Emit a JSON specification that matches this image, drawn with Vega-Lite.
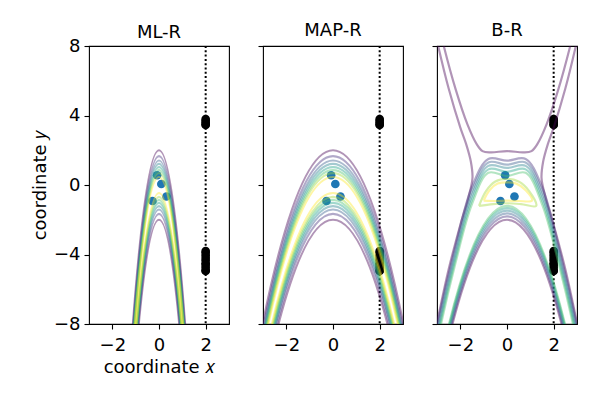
{
"$schema":"https://vega.github.io/schema/vega-lite/v6.json",
"padding":{"left":30,"top":21,"right":5,"bottom":5},
"background":"white",
"config":{
 "view":{"stroke":"#000","strokeWidth":1.1},
 "axis":{"domain":false,"grid":false,"ticks":true,"tickColor":"#000","tickSize":5,"tickWidth":1.1,"labelFont":"DejaVu Sans","labelFontSize":18,"labelColor":"#000","labelPadding":4,"titleFont":"DejaVu Sans","titleFontSize":18,"titleFontWeight":"normal","titleColor":"#000"},
 "axisX":{"labelPadding":7},
 "title":{"font":"DejaVu Sans","fontSize":18,"fontWeight":"normal","color":"#000","offset":-5},
 "concat":{"spacing":26}
},
"datasets":{
 "vl":[{"x":2}],
 "pts":[
  {"k":"b","x":-0.08,"y":0.56},{"k":"b","x":0.1,"y":0.06},{"k":"b","x":0.32,"y":-0.66},{"k":"b","x":-0.28,"y":-0.92},
  {"k":"k","x":2,"y":3.8},{"k":"k","x":2,"y":3.7},{"k":"k","x":2,"y":3.6},{"k":"k","x":2,"y":3.5},{"k":"k","x":2,"y":3.45},
  {"k":"k","x":2,"y":-3.8},{"k":"k","x":2,"y":-3.9},{"k":"k","x":2,"y":-4.05},{"k":"k","x":2,"y":-4.2},{"k":"k","x":2,"y":-4.35},
  {"k":"k","x":2,"y":-4.5},{"k":"k","x":2,"y":-4.6},{"k":"k","x":2,"y":-4.75},{"k":"k","x":2,"y":-4.9},{"k":"k","x":2,"y":-4.95}
 ],
 "par":[
  {"p":"A","c":"A1u","l":1,"x":-2.4,"y":-44.08},{"p":"A","c":"A1u","l":1,"x":-1.2,"y":-9.52},{"p":"A","c":"A1u","l":1,"x":0,"y":2},{"p":"A","c":"A1u","l":1,"x":1.2,"y":-9.52},{"p":"A","c":"A1u","l":1,"x":2.4,"y":-44.08},
  {"p":"A","c":"A1d","l":1,"x":-2.4,"y":-48.08},{"p":"A","c":"A1d","l":1,"x":-1.2,"y":-13.52},{"p":"A","c":"A1d","l":1,"x":0,"y":-2},{"p":"A","c":"A1d","l":1,"x":1.2,"y":-13.52},{"p":"A","c":"A1d","l":1,"x":2.4,"y":-48.08},
  {"p":"A","c":"A2u","l":2,"x":-2.4,"y":-44.42},{"p":"A","c":"A2u","l":2,"x":-1.2,"y":-9.86},{"p":"A","c":"A2u","l":2,"x":0,"y":1.66},{"p":"A","c":"A2u","l":2,"x":1.2,"y":-9.86},{"p":"A","c":"A2u","l":2,"x":2.4,"y":-44.42},
  {"p":"A","c":"A2d","l":2,"x":-2.4,"y":-47.74},{"p":"A","c":"A2d","l":2,"x":-1.2,"y":-13.18},{"p":"A","c":"A2d","l":2,"x":0,"y":-1.66},{"p":"A","c":"A2d","l":2,"x":1.2,"y":-13.18},{"p":"A","c":"A2d","l":2,"x":2.4,"y":-47.74},
  {"p":"A","c":"A3u","l":3,"x":-2.4,"y":-44.67},{"p":"A","c":"A3u","l":3,"x":-1.2,"y":-10.11},{"p":"A","c":"A3u","l":3,"x":0,"y":1.41},{"p":"A","c":"A3u","l":3,"x":1.2,"y":-10.11},{"p":"A","c":"A3u","l":3,"x":2.4,"y":-44.67},
  {"p":"A","c":"A3d","l":3,"x":-2.4,"y":-47.49},{"p":"A","c":"A3d","l":3,"x":-1.2,"y":-12.93},{"p":"A","c":"A3d","l":3,"x":0,"y":-1.41},{"p":"A","c":"A3d","l":3,"x":1.2,"y":-12.93},{"p":"A","c":"A3d","l":3,"x":2.4,"y":-47.49},
  {"p":"A","c":"A4u","l":4,"x":-2.4,"y":-44.86},{"p":"A","c":"A4u","l":4,"x":-1.2,"y":-10.3},{"p":"A","c":"A4u","l":4,"x":0,"y":1.22},{"p":"A","c":"A4u","l":4,"x":1.2,"y":-10.3},{"p":"A","c":"A4u","l":4,"x":2.4,"y":-44.86},
  {"p":"A","c":"A4d","l":4,"x":-2.4,"y":-47.3},{"p":"A","c":"A4d","l":4,"x":-1.2,"y":-12.74},{"p":"A","c":"A4d","l":4,"x":0,"y":-1.22},{"p":"A","c":"A4d","l":4,"x":1.2,"y":-12.74},{"p":"A","c":"A4d","l":4,"x":2.4,"y":-47.3},
  {"p":"A","c":"A5u","l":5,"x":-2.4,"y":-45.05},{"p":"A","c":"A5u","l":5,"x":-1.2,"y":-10.49},{"p":"A","c":"A5u","l":5,"x":0,"y":1.03},{"p":"A","c":"A5u","l":5,"x":1.2,"y":-10.49},{"p":"A","c":"A5u","l":5,"x":2.4,"y":-45.05},
  {"p":"A","c":"A5d","l":5,"x":-2.4,"y":-47.11},{"p":"A","c":"A5d","l":5,"x":-1.2,"y":-12.55},{"p":"A","c":"A5d","l":5,"x":0,"y":-1.03},{"p":"A","c":"A5d","l":5,"x":1.2,"y":-12.55},{"p":"A","c":"A5d","l":5,"x":2.4,"y":-47.11},
  {"p":"A","c":"A6u","l":6,"x":-2.4,"y":-45.22},{"p":"A","c":"A6u","l":6,"x":-1.2,"y":-10.66},{"p":"A","c":"A6u","l":6,"x":0,"y":0.86},{"p":"A","c":"A6u","l":6,"x":1.2,"y":-10.66},{"p":"A","c":"A6u","l":6,"x":2.4,"y":-45.22},
  {"p":"A","c":"A6d","l":6,"x":-2.4,"y":-46.94},{"p":"A","c":"A6d","l":6,"x":-1.2,"y":-12.38},{"p":"A","c":"A6d","l":6,"x":0,"y":-0.86},{"p":"A","c":"A6d","l":6,"x":1.2,"y":-12.38},{"p":"A","c":"A6d","l":6,"x":2.4,"y":-46.94},
  {"p":"A","c":"A7u","l":7,"x":-2.4,"y":-45.4},{"p":"A","c":"A7u","l":7,"x":-1.2,"y":-10.84},{"p":"A","c":"A7u","l":7,"x":0,"y":0.68},{"p":"A","c":"A7u","l":7,"x":1.2,"y":-10.84},{"p":"A","c":"A7u","l":7,"x":2.4,"y":-45.4},
  {"p":"A","c":"A7d","l":7,"x":-2.4,"y":-46.76},{"p":"A","c":"A7d","l":7,"x":-1.2,"y":-12.2},{"p":"A","c":"A7d","l":7,"x":0,"y":-0.68},{"p":"A","c":"A7d","l":7,"x":1.2,"y":-12.2},{"p":"A","c":"A7d","l":7,"x":2.4,"y":-46.76},
  {"p":"A","c":"A8u","l":8,"x":-2.4,"y":-45.62},{"p":"A","c":"A8u","l":8,"x":-1.2,"y":-11.06},{"p":"A","c":"A8u","l":8,"x":0,"y":0.46},{"p":"A","c":"A8u","l":8,"x":1.2,"y":-11.06},{"p":"A","c":"A8u","l":8,"x":2.4,"y":-45.62},
  {"p":"A","c":"A8d","l":8,"x":-2.4,"y":-46.54},{"p":"A","c":"A8d","l":8,"x":-1.2,"y":-11.98},{"p":"A","c":"A8d","l":8,"x":0,"y":-0.46},{"p":"A","c":"A8d","l":8,"x":1.2,"y":-11.98},{"p":"A","c":"A8d","l":8,"x":2.4,"y":-46.54},

  {"p":"B","c":"B1u","l":1,"x":-6,"y":-37.6},{"p":"B","c":"B1u","l":1,"x":-3,"y":-7.9},{"p":"B","c":"B1u","l":1,"x":0,"y":2},{"p":"B","c":"B1u","l":1,"x":3,"y":-7.9},{"p":"B","c":"B1u","l":1,"x":6,"y":-37.6},
  {"p":"B","c":"B1d","l":1,"x":-6,"y":-41.6},{"p":"B","c":"B1d","l":1,"x":-3,"y":-11.9},{"p":"B","c":"B1d","l":1,"x":0,"y":-2},{"p":"B","c":"B1d","l":1,"x":3,"y":-11.9},{"p":"B","c":"B1d","l":1,"x":6,"y":-41.6},
  {"p":"B","c":"B2u","l":2,"x":-6,"y":-37.94},{"p":"B","c":"B2u","l":2,"x":-3,"y":-8.24},{"p":"B","c":"B2u","l":2,"x":0,"y":1.66},{"p":"B","c":"B2u","l":2,"x":3,"y":-8.24},{"p":"B","c":"B2u","l":2,"x":6,"y":-37.94},
  {"p":"B","c":"B2d","l":2,"x":-6,"y":-41.26},{"p":"B","c":"B2d","l":2,"x":-3,"y":-11.56},{"p":"B","c":"B2d","l":2,"x":0,"y":-1.66},{"p":"B","c":"B2d","l":2,"x":3,"y":-11.56},{"p":"B","c":"B2d","l":2,"x":6,"y":-41.26},
  {"p":"B","c":"B3u","l":3,"x":-6,"y":-38.19},{"p":"B","c":"B3u","l":3,"x":-3,"y":-8.49},{"p":"B","c":"B3u","l":3,"x":0,"y":1.41},{"p":"B","c":"B3u","l":3,"x":3,"y":-8.49},{"p":"B","c":"B3u","l":3,"x":6,"y":-38.19},
  {"p":"B","c":"B3d","l":3,"x":-6,"y":-41.01},{"p":"B","c":"B3d","l":3,"x":-3,"y":-11.31},{"p":"B","c":"B3d","l":3,"x":0,"y":-1.41},{"p":"B","c":"B3d","l":3,"x":3,"y":-11.31},{"p":"B","c":"B3d","l":3,"x":6,"y":-41.01},
  {"p":"B","c":"B4u","l":4,"x":-6,"y":-38.38},{"p":"B","c":"B4u","l":4,"x":-3,"y":-8.68},{"p":"B","c":"B4u","l":4,"x":0,"y":1.22},{"p":"B","c":"B4u","l":4,"x":3,"y":-8.68},{"p":"B","c":"B4u","l":4,"x":6,"y":-38.38},
  {"p":"B","c":"B4d","l":4,"x":-6,"y":-40.82},{"p":"B","c":"B4d","l":4,"x":-3,"y":-11.12},{"p":"B","c":"B4d","l":4,"x":0,"y":-1.22},{"p":"B","c":"B4d","l":4,"x":3,"y":-11.12},{"p":"B","c":"B4d","l":4,"x":6,"y":-40.82},
  {"p":"B","c":"B5u","l":5,"x":-6,"y":-38.57},{"p":"B","c":"B5u","l":5,"x":-3,"y":-8.87},{"p":"B","c":"B5u","l":5,"x":0,"y":1.03},{"p":"B","c":"B5u","l":5,"x":3,"y":-8.87},{"p":"B","c":"B5u","l":5,"x":6,"y":-38.57},
  {"p":"B","c":"B5d","l":5,"x":-6,"y":-40.63},{"p":"B","c":"B5d","l":5,"x":-3,"y":-10.93},{"p":"B","c":"B5d","l":5,"x":0,"y":-1.03},{"p":"B","c":"B5d","l":5,"x":3,"y":-10.93},{"p":"B","c":"B5d","l":5,"x":6,"y":-40.63},
  {"p":"B","c":"B6u","l":6,"x":-6,"y":-38.74},{"p":"B","c":"B6u","l":6,"x":-3,"y":-9.04},{"p":"B","c":"B6u","l":6,"x":0,"y":0.86},{"p":"B","c":"B6u","l":6,"x":3,"y":-9.04},{"p":"B","c":"B6u","l":6,"x":6,"y":-38.74},
  {"p":"B","c":"B6d","l":6,"x":-6,"y":-40.46},{"p":"B","c":"B6d","l":6,"x":-3,"y":-10.76},{"p":"B","c":"B6d","l":6,"x":0,"y":-0.86},{"p":"B","c":"B6d","l":6,"x":3,"y":-10.76},{"p":"B","c":"B6d","l":6,"x":6,"y":-40.46},
  {"p":"B","c":"B7u","l":7,"x":-6,"y":-38.92},{"p":"B","c":"B7u","l":7,"x":-3,"y":-9.22},{"p":"B","c":"B7u","l":7,"x":0,"y":0.68},{"p":"B","c":"B7u","l":7,"x":3,"y":-9.22},{"p":"B","c":"B7u","l":7,"x":6,"y":-38.92},
  {"p":"B","c":"B7d","l":7,"x":-6,"y":-40.28},{"p":"B","c":"B7d","l":7,"x":-3,"y":-10.58},{"p":"B","c":"B7d","l":7,"x":0,"y":-0.68},{"p":"B","c":"B7d","l":7,"x":3,"y":-10.58},{"p":"B","c":"B7d","l":7,"x":6,"y":-40.28},
  {"p":"B","c":"B8u","l":8,"x":-6,"y":-39.14},{"p":"B","c":"B8u","l":8,"x":-3,"y":-9.44},{"p":"B","c":"B8u","l":8,"x":0,"y":0.46},{"p":"B","c":"B8u","l":8,"x":3,"y":-9.44},{"p":"B","c":"B8u","l":8,"x":6,"y":-39.14},
  {"p":"B","c":"B8d","l":8,"x":-6,"y":-40.06},{"p":"B","c":"B8d","l":8,"x":-3,"y":-10.36},{"p":"B","c":"B8d","l":8,"x":0,"y":-0.46},{"p":"B","c":"B8d","l":8,"x":3,"y":-10.36},{"p":"B","c":"B8d","l":8,"x":6,"y":-40.06},

  {"p":"C","c":"C1d","l":1,"x":-6,"y":-41.6},{"p":"C","c":"C1d","l":1,"x":-3,"y":-11.9},{"p":"C","c":"C1d","l":1,"x":0,"y":-2},{"p":"C","c":"C1d","l":1,"x":3,"y":-11.9},{"p":"C","c":"C1d","l":1,"x":6,"y":-41.6},
  {"p":"C","c":"C2d","l":2,"x":-6,"y":-41.4},{"p":"C","c":"C2d","l":2,"x":-3,"y":-11.7},{"p":"C","c":"C2d","l":2,"x":0,"y":-1.8},{"p":"C","c":"C2d","l":2,"x":3,"y":-11.7},{"p":"C","c":"C2d","l":2,"x":6,"y":-41.4},
  {"p":"C","c":"C3d","l":3,"x":-6,"y":-41.23},{"p":"C","c":"C3d","l":3,"x":-3,"y":-11.53},{"p":"C","c":"C3d","l":3,"x":0,"y":-1.63},{"p":"C","c":"C3d","l":3,"x":3,"y":-11.53},{"p":"C","c":"C3d","l":3,"x":6,"y":-41.23},
  {"p":"C","c":"C4d","l":4,"x":-6,"y":-41.07},{"p":"C","c":"C4d","l":4,"x":-3,"y":-11.37},{"p":"C","c":"C4d","l":4,"x":0,"y":-1.47},{"p":"C","c":"C4d","l":4,"x":3,"y":-11.37},{"p":"C","c":"C4d","l":4,"x":6,"y":-41.07},
  {"p":"C","c":"C5d","l":5,"x":-6,"y":-40.93},{"p":"C","c":"C5d","l":5,"x":-3,"y":-11.23},{"p":"C","c":"C5d","l":5,"x":0,"y":-1.33},{"p":"C","c":"C5d","l":5,"x":3,"y":-11.23},{"p":"C","c":"C5d","l":5,"x":6,"y":-40.93},
  {"p":"C","c":"C6d","l":6,"x":-6,"y":-40.8},{"p":"C","c":"C6d","l":6,"x":-3,"y":-11.1},{"p":"C","c":"C6d","l":6,"x":0,"y":-1.2},{"p":"C","c":"C6d","l":6,"x":3,"y":-11.1},{"p":"C","c":"C6d","l":6,"x":6,"y":-40.8}
 ],
 "path":[
  {"c":"V","l":1,"o":0,"x":-3.0,"y":9.65},{"c":"V","l":1,"o":1,"x":-2.71,"y":8.0},{"c":"V","l":1,"o":2,"x":-2.2,"y":5.5},{"c":"V","l":1,"o":3,"x":-1.7,"y":3.5},{"c":"V","l":1,"o":4,"x":-1.3,"y":2.35},{"c":"V","l":1,"o":5,"x":-1.05,"y":1.95},{"c":"V","l":1,"o":6,"x":-0.7,"y":1.88},{"c":"V","l":1,"o":7,"x":0,"y":1.95},{"c":"V","l":1,"o":8,"x":0.7,"y":1.88},{"c":"V","l":1,"o":9,"x":1.05,"y":1.95},{"c":"V","l":1,"o":10,"x":1.3,"y":2.35},{"c":"V","l":1,"o":11,"x":1.7,"y":3.5},{"c":"V","l":1,"o":12,"x":2.2,"y":5.5},{"c":"V","l":1,"o":13,"x":2.71,"y":8.0},{"c":"V","l":1,"o":14,"x":3.0,"y":9.65},
  {"c":"OL","l":1,"o":0,"x":-3.4,"y":-10.7},{"c":"OL","l":1,"o":1,"x":-3.0,"y":-7.95},{"c":"OL","l":1,"o":2,"x":-2.5,"y":-4.85},{"c":"OL","l":1,"o":3,"x":-2.0,"y":-2.3},{"c":"OL","l":1,"o":4,"x":-1.65,"y":-0.7},{"c":"OL","l":1,"o":5,"x":-1.48,"y":0.4},{"c":"OL","l":1,"o":6,"x":-1.55,"y":1.35},{"c":"OL","l":1,"o":7,"x":-1.75,"y":2.35},{"c":"OL","l":1,"o":8,"x":-2.0,"y":3.3},{"c":"OL","l":1,"o":9,"x":-2.5,"y":5.55},{"c":"OL","l":1,"o":10,"x":-2.95,"y":8.0},{"c":"OL","l":1,"o":11,"x":-3.2,"y":9.55},
  {"c":"OR","l":1,"o":0,"x":3.4,"y":-10.7},{"c":"OR","l":1,"o":1,"x":3.0,"y":-7.95},{"c":"OR","l":1,"o":2,"x":2.5,"y":-4.85},{"c":"OR","l":1,"o":3,"x":2.0,"y":-2.3},{"c":"OR","l":1,"o":4,"x":1.65,"y":-0.7},{"c":"OR","l":1,"o":5,"x":1.48,"y":0.4},{"c":"OR","l":1,"o":6,"x":1.55,"y":1.35},{"c":"OR","l":1,"o":7,"x":1.75,"y":2.35},{"c":"OR","l":1,"o":8,"x":2.0,"y":3.3},{"c":"OR","l":1,"o":9,"x":2.5,"y":5.55},{"c":"OR","l":1,"o":10,"x":2.95,"y":8.0},{"c":"OR","l":1,"o":11,"x":3.2,"y":9.55},
  {"c":"U2","l":2,"o":0,"x":-3.6,"y":-12.5},{"c":"U2","l":2,"o":1,"x":-3.0,"y":-8.1},{"c":"U2","l":2,"o":2,"x":-2.2,"y":-3.45},{"c":"U2","l":2,"o":3,"x":-1.5,"y":-0.1},{"c":"U2","l":2,"o":4,"x":-0.8,"y":1.5},{"c":"U2","l":2,"o":5,"x":0,"y":1.4},{"c":"U2","l":2,"o":6,"x":0.8,"y":1.5},{"c":"U2","l":2,"o":7,"x":1.5,"y":-0.1},{"c":"U2","l":2,"o":8,"x":2.2,"y":-3.45},{"c":"U2","l":2,"o":9,"x":3.0,"y":-8.1},{"c":"U2","l":2,"o":10,"x":3.6,"y":-12.5},
  {"c":"U3","l":3,"o":0,"x":-3.6,"y":-12.75},{"c":"U3","l":3,"o":1,"x":-3.0,"y":-8.35},{"c":"U3","l":3,"o":2,"x":-2.2,"y":-3.7},{"c":"U3","l":3,"o":3,"x":-1.5,"y":-0.35},{"c":"U3","l":3,"o":4,"x":-0.8,"y":1.3},{"c":"U3","l":3,"o":5,"x":0,"y":1.17},{"c":"U3","l":3,"o":6,"x":0.8,"y":1.3},{"c":"U3","l":3,"o":7,"x":1.5,"y":-0.35},{"c":"U3","l":3,"o":8,"x":2.2,"y":-3.7},{"c":"U3","l":3,"o":9,"x":3.0,"y":-8.35},{"c":"U3","l":3,"o":10,"x":3.6,"y":-12.75},
  {"c":"U4","l":4,"o":0,"x":-3.6,"y":-13.0},{"c":"U4","l":4,"o":1,"x":-3.0,"y":-8.6},{"c":"U4","l":4,"o":2,"x":-2.2,"y":-3.95},{"c":"U4","l":4,"o":3,"x":-1.5,"y":-0.6},{"c":"U4","l":4,"o":4,"x":-0.8,"y":1.1},{"c":"U4","l":4,"o":5,"x":0,"y":0.98},{"c":"U4","l":4,"o":6,"x":0.8,"y":1.1},{"c":"U4","l":4,"o":7,"x":1.5,"y":-0.6},{"c":"U4","l":4,"o":8,"x":2.2,"y":-3.95},{"c":"U4","l":4,"o":9,"x":3.0,"y":-8.6},{"c":"U4","l":4,"o":10,"x":3.6,"y":-13.0},
  {"c":"U5","l":5,"o":0,"x":-3.6,"y":-13.25},{"c":"U5","l":5,"o":1,"x":-3.0,"y":-8.85},{"c":"U5","l":5,"o":2,"x":-2.2,"y":-4.2},{"c":"U5","l":5,"o":3,"x":-1.5,"y":-0.85},{"c":"U5","l":5,"o":4,"x":-0.8,"y":0.9},{"c":"U5","l":5,"o":5,"x":0,"y":0.76},{"c":"U5","l":5,"o":6,"x":0.8,"y":0.9},{"c":"U5","l":5,"o":7,"x":1.5,"y":-0.85},{"c":"U5","l":5,"o":8,"x":2.2,"y":-4.2},{"c":"U5","l":5,"o":9,"x":3.0,"y":-8.85},{"c":"U5","l":5,"o":10,"x":3.6,"y":-13.25},
  {"c":"U6","l":6,"o":0,"x":-3.6,"y":-13.5},{"c":"U6","l":6,"o":1,"x":-3.0,"y":-9.1},{"c":"U6","l":6,"o":2,"x":-2.2,"y":-4.45},{"c":"U6","l":6,"o":3,"x":-1.5,"y":-1.1},{"c":"U6","l":6,"o":4,"x":-0.8,"y":0.7},{"c":"U6","l":6,"o":5,"x":0,"y":0.52},{"c":"U6","l":6,"o":6,"x":0.8,"y":0.7},{"c":"U6","l":6,"o":7,"x":1.5,"y":-1.1},{"c":"U6","l":6,"o":8,"x":2.2,"y":-4.45},{"c":"U6","l":6,"o":9,"x":3.0,"y":-9.1},{"c":"U6","l":6,"o":10,"x":3.6,"y":-13.5},
  {"c":"L7","l":7,"o":0,"x":-1.2,"y":-1.2},{"c":"L7","l":7,"o":1,"x":-0.9,"y":-0.35},{"c":"L7","l":7,"o":2,"x":-0.5,"y":0.2},{"c":"L7","l":7,"o":3,"x":0,"y":0.35},{"c":"L7","l":7,"o":4,"x":0.5,"y":0.2},{"c":"L7","l":7,"o":5,"x":0.95,"y":-0.35},{"c":"L7","l":7,"o":6,"x":1.25,"y":-1.2},{"c":"L7","l":7,"o":7,"x":0.6,"y":-1.1},{"c":"L7","l":7,"o":8,"x":0,"y":-1.05},{"c":"L7","l":7,"o":9,"x":-0.6,"y":-1.1},{"c":"L7","l":7,"o":10,"x":-1.2,"y":-1.2},
  {"c":"L8","l":8,"o":0,"x":-1.0,"y":-0.9},{"c":"L8","l":8,"o":1,"x":-0.75,"y":-0.3},{"c":"L8","l":8,"o":2,"x":-0.4,"y":0.08},{"c":"L8","l":8,"o":3,"x":0,"y":0.15},{"c":"L8","l":8,"o":4,"x":0.4,"y":0.08},{"c":"L8","l":8,"o":5,"x":0.8,"y":-0.3},{"c":"L8","l":8,"o":6,"x":1.07,"y":-0.9},{"c":"L8","l":8,"o":7,"x":0.5,"y":-0.92},{"c":"L8","l":8,"o":8,"x":0,"y":-0.9},{"c":"L8","l":8,"o":9,"x":-0.5,"y":-0.92},{"c":"L8","l":8,"o":10,"x":-1.0,"y":-0.9}
 ]
},
"hconcat":[
 {"width":140,"height":278,"title":{"text":"ML-R","offset":-5},"resolve":{"scale":{"color":"independent"}},
  "layer":[
   {"data":{"name":"vl"},"mark":{"type":"rule","strokeDash":[2,2.3],"strokeWidth":2,"color":"#000"},
    "encoding":{"x":{"field":"x","type":"quantitative","scale":{"domain":[-3,3],"nice":false},"axis":{"values":[-2,0,2],"title":"coordinate 𝑥"}}}},
   {"data":{"name":"pts"},"mark":{"type":"circle","size":75,"opacity":1},
    "encoding":{"x":{"field":"x","type":"quantitative","scale":{"domain":[-3,3],"nice":false},"axis":{"values":[-2,0,2],"title":"coordinate 𝑥"}},
     "y":{"field":"y","type":"quantitative","scale":{"domain":[-8,8],"nice":false},"axis":{"values":[-8,-4,0,4,8],"title":"coordinate 𝑦"}},
     "color":{"field":"k","type":"nominal","scale":{"domain":["b","k"],"range":["#1f77b4","#000000"]},"legend":null}}},
   {"data":{"name":"par"},"transform":[{"filter":"datum.p==='A'"}],"mark":{"type":"line","interpolate":"cardinal","tension":0,"clip":true,"strokeWidth":2.2,"opacity":0.42},
    "encoding":{"x":{"field":"x","type":"quantitative","scale":{"domain":[-3,3],"nice":false},"axis":{"values":[-2,0,2],"title":"coordinate 𝑥"}},
     "y":{"field":"y","type":"quantitative","scale":{"domain":[-8,8],"nice":false},"axis":{"values":[-8,-4,0,4,8],"title":"coordinate 𝑦"}},
     "detail":{"field":"c"},
     "color":{"field":"l","type":"quantitative","scale":{"scheme":"viridis","domain":[1,8]},"legend":null}}}
  ]},
 {"width":140,"height":278,"title":{"text":"MAP-R","offset":5},"resolve":{"scale":{"color":"independent"}},
  "layer":[
   {"data":{"name":"vl"},"mark":{"type":"rule","strokeDash":[2,2.3],"strokeWidth":2,"color":"#000"},
    "encoding":{"x":{"field":"x","type":"quantitative","scale":{"domain":[-3,3],"nice":false},"axis":{"values":[-2,0,2],"title":null}}}},
   {"data":{"name":"pts"},"mark":{"type":"circle","size":75,"opacity":1},
    "encoding":{"x":{"field":"x","type":"quantitative","scale":{"domain":[-3,3],"nice":false},"axis":{"values":[-2,0,2],"title":null}},
     "y":{"field":"y","type":"quantitative","scale":{"domain":[-8,8],"nice":false},"axis":{"values":[-8,-4,0,4,8],"title":null,"labels":false}},
     "color":{"field":"k","type":"nominal","scale":{"domain":["b","k"],"range":["#1f77b4","#000000"]},"legend":null}}},
   {"data":{"name":"par"},"transform":[{"filter":"datum.p==='B'"}],"mark":{"type":"line","interpolate":"cardinal","tension":0,"clip":true,"strokeWidth":2.2,"opacity":0.42},
    "encoding":{"x":{"field":"x","type":"quantitative","scale":{"domain":[-3,3],"nice":false},"axis":{"values":[-2,0,2],"title":null}},
     "y":{"field":"y","type":"quantitative","scale":{"domain":[-8,8],"nice":false},"axis":{"values":[-8,-4,0,4,8],"title":null,"labels":false}},
     "detail":{"field":"c"},
     "color":{"field":"l","type":"quantitative","scale":{"scheme":"viridis","domain":[1,8]},"legend":null}}}
  ]},
 {"width":140,"height":278,"title":{"text":"B-R","offset":5},"resolve":{"scale":{"color":"independent"}},
  "layer":[
   {"data":{"name":"vl"},"mark":{"type":"rule","strokeDash":[2,2.3],"strokeWidth":2,"color":"#000"},
    "encoding":{"x":{"field":"x","type":"quantitative","scale":{"domain":[-3,3],"nice":false},"axis":{"values":[-2,0,2],"title":null}}}},
   {"data":{"name":"pts"},"mark":{"type":"circle","size":75,"opacity":1},
    "encoding":{"x":{"field":"x","type":"quantitative","scale":{"domain":[-3,3],"nice":false},"axis":{"values":[-2,0,2],"title":null}},
     "y":{"field":"y","type":"quantitative","scale":{"domain":[-8,8],"nice":false},"axis":{"values":[-8,-4,0,4,8],"title":null,"labels":false}},
     "color":{"field":"k","type":"nominal","scale":{"domain":["b","k"],"range":["#1f77b4","#000000"]},"legend":null}}},
   {"data":{"name":"par"},"transform":[{"filter":"datum.p==='C'"}],"mark":{"type":"line","interpolate":"cardinal","tension":0,"clip":true,"strokeWidth":2.2,"opacity":0.42},
    "encoding":{"x":{"field":"x","type":"quantitative","scale":{"domain":[-3,3],"nice":false},"axis":{"values":[-2,0,2],"title":null}},
     "y":{"field":"y","type":"quantitative","scale":{"domain":[-8,8],"nice":false},"axis":{"values":[-8,-4,0,4,8],"title":null,"labels":false}},
     "detail":{"field":"c"},
     "color":{"field":"l","type":"quantitative","scale":{"scheme":"viridis","domain":[1,8]},"legend":null}}},
   {"data":{"name":"path"},"mark":{"type":"line","interpolate":"catmull-rom","clip":true,"strokeWidth":2.2,"opacity":0.42},
    "encoding":{"x":{"field":"x","type":"quantitative","scale":{"domain":[-3,3],"nice":false},"axis":{"values":[-2,0,2],"title":null}},
     "y":{"field":"y","type":"quantitative","scale":{"domain":[-8,8],"nice":false},"axis":{"values":[-8,-4,0,4,8],"title":null,"labels":false}},
     "detail":{"field":"c"},"order":{"field":"o","type":"quantitative"},
     "color":{"field":"l","type":"quantitative","scale":{"scheme":"viridis","domain":[1,8]},"legend":null}}}
  ]}
]
}
